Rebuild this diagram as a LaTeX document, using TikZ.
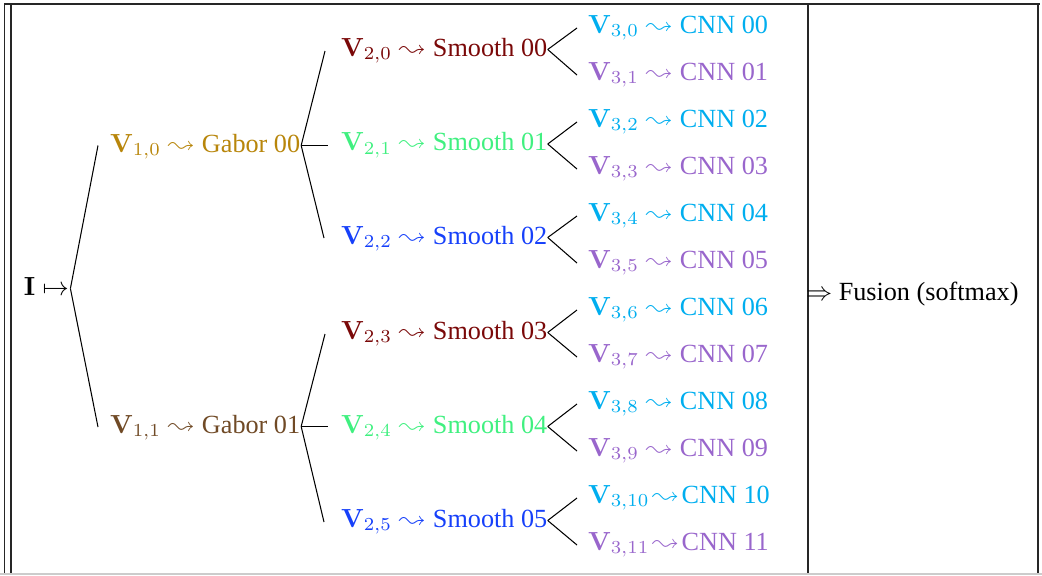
\documentclass[tikz,border=0pt]{standalone}
\usepackage[no-math]{fontspec}
\setmainfont{Liberation Serif}
\usepackage{latexsym}
\usetikzlibrary{calc}

\definecolor{gaborA}{HTML}{B8860B}
\definecolor{gaborB}{HTML}{704A26}
\definecolor{smoothA}{HTML}{7A0808}
\definecolor{smoothB}{HTML}{40F080}
\definecolor{smoothC}{HTML}{1640FA}
\definecolor{cnnA}{HTML}{00AEEF}
\definecolor{cnnB}{HTML}{9966CC}

\tikzset{
  lbl/.style={anchor=base west, inner sep=0pt, outer sep=0pt,
              font=\fontsize{10}{12}\selectfont},
  branch/.style={draw=black, line width=0.4pt},
  rule/.style={draw=black!85, line width=0.4pt},
}

\begin{document}
\begin{tikzpicture}[x=0.38168pt, y=-0.38168pt]
\useasboundingbox (0,0) rectangle (1042,575);

% table frame
\draw[rule] (4,4) -- (1040,4);
\draw[rule] (4.5,4) -- (4.5,575);
\draw[rule] (11,4) -- (11,575);
\draw[rule] (808,4) -- (808,575);
\draw[rule] (1038,4) -- (1038,575);
\draw[draw=black!20, line width=0.4pt] (0,574) -- (1042,574);

% root
\node[lbl] (root) at (24,295) {$\mathbf{I}\mapsto$};

% level 1
\node[lbl, text=gaborA] (g0) at (110,152) {$\mathbf{V}_{1,0}\leadsto{}$Gabor 00};
\node[lbl, text=gaborB] (g1) at (110,433) {$\mathbf{V}_{1,1}\leadsto{}$Gabor 01};

% level 2
\node[lbl, text=smoothA] (s0) at (341,56)  {$\mathbf{V}_{2,0}\leadsto{}$Smooth 00};
\node[lbl, text=smoothB] (s1) at (341,150.5) {$\mathbf{V}_{2,1}\leadsto{}$Smooth 01};
\node[lbl, text=smoothC] (s2) at (341,244) {$\mathbf{V}_{2,2}\leadsto{}$Smooth 02};
\node[lbl, text=smoothA] (s3) at (341,339) {$\mathbf{V}_{2,3}\leadsto{}$Smooth 03};
\node[lbl, text=smoothB] (s4) at (341,433) {$\mathbf{V}_{2,4}\leadsto{}$Smooth 04};
\node[lbl, text=smoothC] (s5) at (341,527) {$\mathbf{V}_{2,5}\leadsto{}$Smooth 05};

% level 3
\node[lbl, text=cnnA] (c0)  at (588,33)  {$\mathbf{V}_{3,0}\leadsto{}$CNN 00};
\node[lbl, text=cnnB] (c1)  at (588,80)  {$\mathbf{V}_{3,1}\leadsto{}$CNN 01};
\node[lbl, text=cnnA] (c2)  at (588,127) {$\mathbf{V}_{3,2}\leadsto{}$CNN 02};
\node[lbl, text=cnnB] (c3)  at (588,174) {$\mathbf{V}_{3,3}\leadsto{}$CNN 03};
\node[lbl, text=cnnA] (c4)  at (588,221) {$\mathbf{V}_{3,4}\leadsto{}$CNN 04};
\node[lbl, text=cnnB] (c5)  at (588,268) {$\mathbf{V}_{3,5}\leadsto{}$CNN 05};
\node[lbl, text=cnnA] (c6)  at (588,315) {$\mathbf{V}_{3,6}\leadsto{}$CNN 06};
\node[lbl, text=cnnB] (c7)  at (588,362) {$\mathbf{V}_{3,7}\leadsto{}$CNN 07};
\node[lbl, text=cnnA] (c8)  at (588,409) {$\mathbf{V}_{3,8}\leadsto{}$CNN 08};
\node[lbl, text=cnnB] (c9)  at (588,456) {$\mathbf{V}_{3,9}\leadsto{}$CNN 09};
\node[lbl, text=cnnA] (c10) at (588,503) {$\mathbf{V}_{3,10}\mskip2mu{\leadsto}\mskip2mu$CNN 10};
\node[lbl, text=cnnB] (c11) at (588,550) {$\mathbf{V}_{3,11}\mskip2mu{\leadsto}\mskip2mu$CNN 11};

% fusion column
\node[lbl] (fus) at (806,300) {$\Rightarrow$ Fusion (softmax)};

% branches: root -> level 1
\coordinate (rootR) at ($(root.base east)+(1.5,-6.5)$);
\draw[branch] (rootR) -- ($(g0.base west)+(-12,-6.5)$);
\draw[branch] (rootR) -- ($(g1.base west)+(-12,-6)$);

% level 1 -> level 2
\coordinate (g0R) at ($(g0.base east)+(1,-6.5)$);
\coordinate (g1R) at ($(g1.base east)+(1,-6.5)$);
\draw[branch] (g0R) -- ($(s0.base west)+(-16,-5)$);
\draw[branch] (g0R) -- ($(s1.base west)+(-13,-5)$);
\draw[branch] (g0R) -- ($(s2.base west)+(-17,-6)$);
\draw[branch] (g1R) -- ($(s3.base west)+(-16,-5)$);
\draw[branch] (g1R) -- ($(s4.base west)+(-13,-6.5)$);
\draw[branch] (g1R) -- ($(s5.base west)+(-17,-5)$);

% level 2 -> level 3
\foreach \i in {0,...,5} {
  \pgfmathtruncatemacro\ca{2*\i}
  \pgfmathtruncatemacro\cb{2*\i+1}
  \coordinate (sR) at ($(s\i.base east)+(0.5,-6.5)$);
  \draw[branch] (sR) -- ($(c\ca.base west)+(-11,-5)$);
  \draw[branch] (sR) -- ($(c\cb.base west)+(-11,-5)$);
}
\end{tikzpicture}
\end{document}
